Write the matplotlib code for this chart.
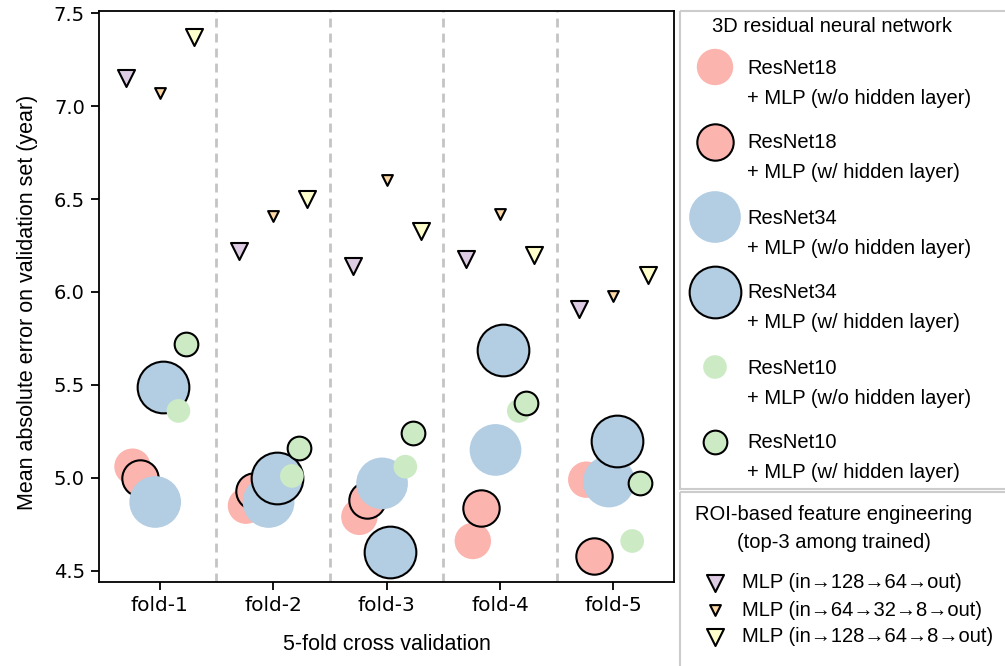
import matplotlib
matplotlib.use('Agg')
import matplotlib.pyplot as plt
from matplotlib.patches import Rectangle

# fold labels and MAE values
folds = ['fold-1', 'fold-2', 'fold-3', 'fold-4', 'fold-5']

r18_wo = [5.06, 4.85, 4.79, 4.66, 4.99]
r18_w = [5.00, 4.93, 4.88, 4.84, 4.58]
r34_wo = [4.87, 4.87, 4.97, 5.15, 4.98]
r34_w = [5.49, 5.00, 4.60, 5.69, 5.20]
r10_wo = [5.36, 5.01, 5.06, 5.36, 4.66]
r10_w = [5.72, 5.16, 5.24, 5.40, 4.97]

mlp_128_64 = [7.15, 6.22, 6.14, 6.18, 5.91]
mlp_64_32_8 = [7.07, 6.41, 6.60, 6.42, 5.98]
mlp_128_64_8 = [7.37, 6.50, 6.33, 6.20, 6.09]

resnet_labels = ['ResNet18', 'ResNet18', 'ResNet34', 'ResNet34', 'ResNet10', 'ResNet10']
head_labels = ['+ MLP (w/o hidden layer)', '+ MLP (w/ hidden layer)'] * 3
roi_labels = ['MLP (in\u2192128\u219264\u2192out)',
              'MLP (in\u219264\u219232\u21928\u2192out)',
              'MLP (in\u2192128\u219264\u21928\u2192out)']

# Pastel1 colours
pink, blue, green = '#fbb4ae', '#b3cde3', '#ccebc5'
purple, orange, yellow = '#decbe4', '#fed9a6', '#ffffcc'

FAM = ['Liberation Sans', 'DejaVu Sans']
LFS = 14.5  # legend font size

W, H = 1005, 666
fig = plt.figure(figsize=(W / 100, H / 100), dpi=100)
ax = fig.add_axes([98.8 / W, 84.3 / H, 575.6 / W, 570.7 / H])

series = [
    (r18_wo, pink, 686, 'none', -0.24),
    (r18_w, pink, 686, 'black', -0.17),
    (r34_wo, blue, 1385, 'none', -0.04),
    (r34_w, blue, 1385, 'black', 0.03),
    (r10_wo, green, 291, 'none', 0.165),
    (r10_w, green, 291, 'black', 0.23),
]
tri_series = [
    (mlp_128_64, purple, 150, -0.3),
    (mlp_64_32_8, orange, 60, 0.0),
    (mlp_128_64_8, yellow, 150, 0.3),
]

x = list(range(len(folds)))
for vals, c, s, ec, off in series:
    ax.scatter([i + off for i in x], vals, s=s, c=c, edgecolors=ec,
               linewidths=1.5, zorder=3)
for vals, c, s, off in tri_series:
    ax.scatter([i + off for i in x], vals, s=s, c=c, marker='v',
               edgecolors='black', linewidths=1.5, zorder=4)

for b in [0.5, 1.5, 2.5, 3.5]:
    ax.axvline(b, color='#c4c4c4', lw=2, ls=(0, (3.2, 2.2)), zorder=1)

ax.set_xlim(-0.537, 4.537)
ax.set_ylim(4.441, 7.512)
ax.set_xticks(x)
ax.set_xticklabels(folds)
ax.set_yticks([4.5, 5.0, 5.5, 6.0, 6.5, 7.0, 7.5])
ax.tick_params(direction='out', length=6, width=1.3, pad=4)
ax.tick_params(axis='x', labelsize=14.5)
ax.tick_params(axis='y', labelsize=14)
for sp in ax.spines.values():
    sp.set_linewidth(1.3)
ax.set_xlabel('5-fold cross validation', family=FAM, fontsize=15.5, labelpad=14)
ax.set_ylabel('Mean absolute error on validation set (year)', family=FAM,
              fontsize=15.5)
ax.yaxis.set_label_coords(-0.105, 0.49)

# legends drawn in pixel coordinates of an overlay axes
lax = fig.add_axes([0, 0, 1, 1])
lax.set_xlim(0, W)
lax.set_ylim(H, 0)
lax.axis('off')

lax.add_patch(Rectangle((680, 11), 345, 478, fill=False, ec='#cccccc', lw=1.5, clip_on=False))
lax.add_patch(Rectangle((680, 492), 345, 200, fill=False, ec='#cccccc', lw=1.5, clip_on=False))

lax.text(832, 27, '3D residual neural network', family=FAM, fontsize=LFS,
         ha='center', va='center')
for k, (vals, c, s, ec, off) in enumerate(series):
    yy = 67 + 75 * k
    lax.scatter([715], [yy], s=s, c=c, edgecolors=ec, linewidths=1.5)
    lax.text(747, yy + 1, resnet_labels[k], family=FAM, fontsize=LFS, va='center')
    lax.text(747, yy + 31, head_labels[k], family=FAM, fontsize=LFS, va='center')

lax.text(834, 515, 'ROI-based feature engineering', family=FAM, fontsize=LFS,
         ha='center', va='center')
lax.text(834, 542, '(top-3 among trained)', family=FAM, fontsize=LFS,
         ha='center', va='center')
for k, (vals, c, s, off) in enumerate(tri_series):
    yy = 583 + 27 * k
    lax.scatter([715], [yy], s=s, c=c, marker='v', edgecolors='black', linewidths=1.5)
    lax.text(742, yy, roi_labels[k], family=FAM, fontsize=LFS, va='center')

fig.savefig('out.png', dpi=100)
